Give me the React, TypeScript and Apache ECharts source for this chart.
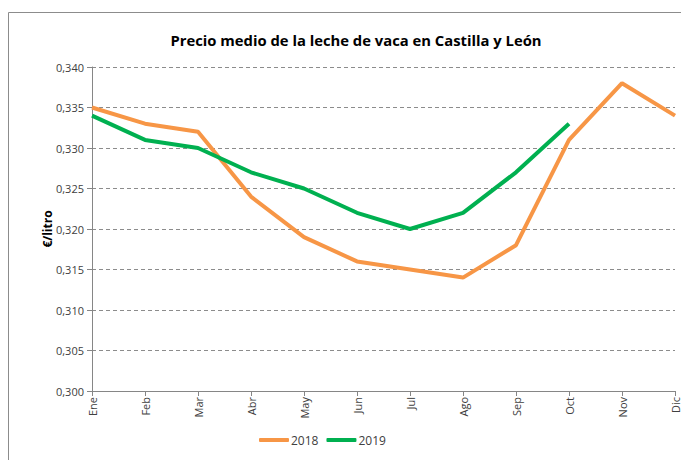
import React, { useEffect, useRef } from "react";
import * as echarts from "echarts";

const months = ["Ene", "Feb", "Mar", "Abr", "May", "Jun", "Jul", "Ago", "Sep", "Oct", "Nov", "Dic"];
const s2018 = [0.335, 0.333, 0.332, 0.324, 0.319, 0.316, 0.315, 0.314, 0.318, 0.331, 0.338, 0.334];
const s2019 = [0.334, 0.331, 0.330, 0.327, 0.325, 0.322, 0.320, 0.322, 0.327, 0.333];
const yAxisTitle = "€/litro";

export default function App() {
  const ref = useRef<HTMLDivElement>(null);
  useEffect(() => {
    const chart = echarts.init(ref.current!, null, { renderer: "svg" });
    chart.setOption({
      animation: false,
      backgroundColor: "#fff",
      textStyle: { fontFamily: "Open Sans" },
      graphic: [
        {
          type: "rect",
          shape: { x: 8.5, y: 12.5, width: 700, height: 500 },
          style: { fill: "none", stroke: "#8c8c8c", lineWidth: 1 },
          z: -1,
        },
        {
          type: "text",
          x: 47,
          y: 229,
          rotation: Math.PI / 2,
          style: {
            text: yAxisTitle,
            fontSize: 12,
            fontWeight: "bold",
            fill: "#000",
            fontFamily: "Open Sans",
            align: "center",
            verticalAlign: "middle",
          },
        },
      ],
      title: {
        text: "Precio medio de la leche de vaca en Castilla y León",
        left: 351,
        textAlign: "center",
        top: 27,
        textStyle: { fontSize: 14.8, fontWeight: "bold", color: "#000", fontFamily: "Open Sans" },
      },
      grid: { left: 92, right: 6, top: 67, bottom: 69, containLabel: false },
      xAxis: {
        type: "category",
        data: months,
        boundaryGap: false,
        axisLine: { lineStyle: { color: "#868686" } },
        axisTick: { show: true, alignWithLabel: true, length: 5, lineStyle: { color: "#868686" } },
        axisLabel: { rotate: 90, color: "#404040", fontSize: 11, margin: 6, interval: 0 },
      },
      yAxis: {
        type: "value",
        min: 0.3,
        max: 0.34,
        interval: 0.005,
        axisLine: { show: true, lineStyle: { color: "#868686" } },
        axisTick: { show: true, length: 5, lineStyle: { color: "#868686" } },
        axisLabel: {
          color: "#404040",
          fontSize: 11,
          margin: 8,
          formatter: (v: number) => v.toFixed(3).replace(".", ","),
        },
        splitLine: { lineStyle: { color: "#8c8c8c", type: [4, 3], width: 1 } },
      },
      legend: {
        bottom: 9,
        left: 254,
        itemWidth: 30,
        itemHeight: 4,
        itemGap: 8,
        icon: "roundRect",
        textStyle: { fontSize: 12, color: "#404040", padding: [0, 0, 0, -3] },
        data: ["2018", "2019"],
      },
      series: [
        {
          name: "2018",
          type: "line",
          data: s2018,
          symbol: "none",
          lineStyle: { color: "#F79646", width: 4 },
          itemStyle: { color: "#F79646" },
        },
        {
          name: "2019",
          type: "line",
          data: s2019,
          symbol: "none",
          lineStyle: { color: "#00B050", width: 4 },
          itemStyle: { color: "#00B050" },
        },
      ],
    });
    return () => chart.dispose();
  }, []);
  return (
    <div
      ref={ref}
      style={{ position: "absolute", left: 0, top: 0, width: 681, height: 460 }}
    />
  );
}
